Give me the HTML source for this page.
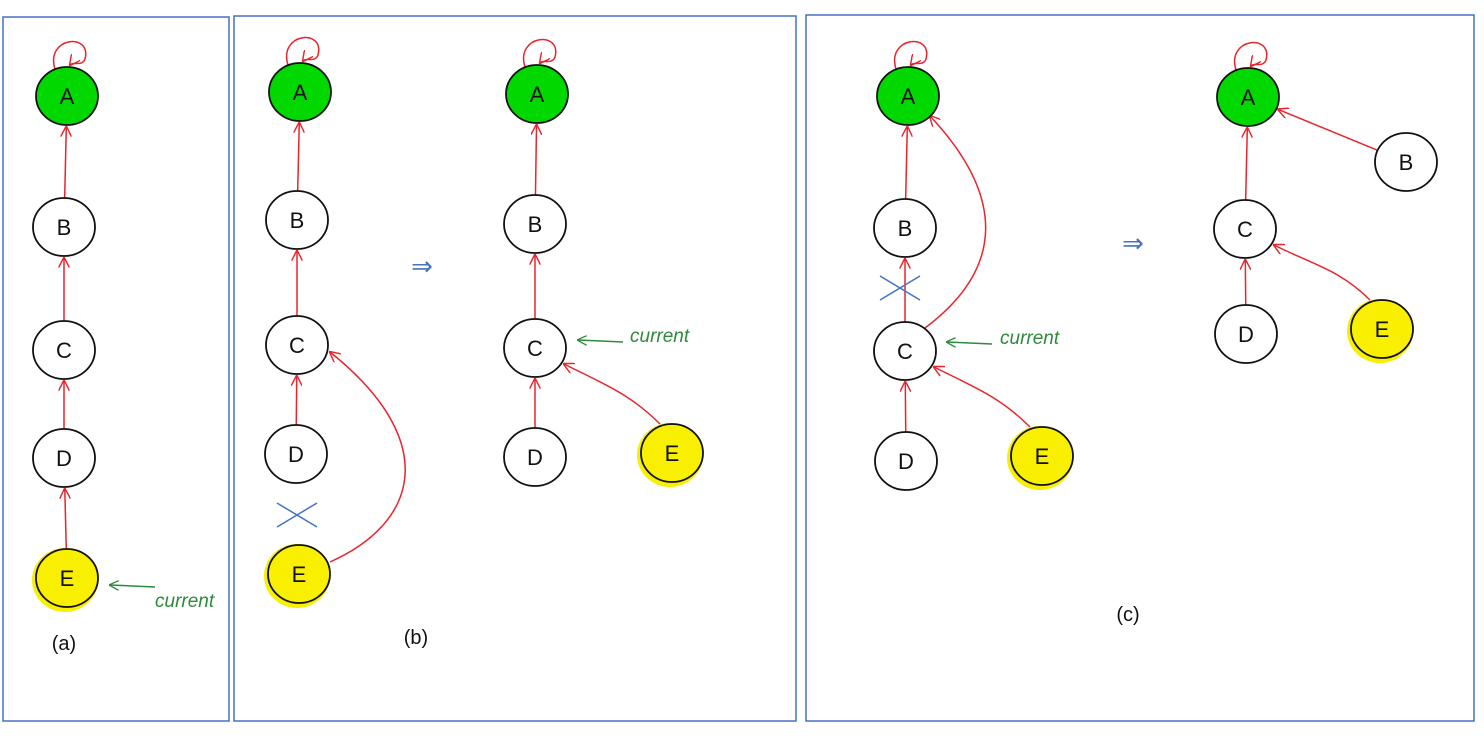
<!DOCTYPE html>
<html><head><meta charset="utf-8"><style>
html,body{margin:0;padding:0;background:#fff;}
svg{display:block;}
text{font-family:"Liberation Sans",sans-serif;}
</style></head><body>
<svg id="chart" width="1484" height="740" viewBox="0 0 1484 740" xmlns="http://www.w3.org/2000/svg">
<defs>
<marker id="ar" viewBox="0 0 10 10" refX="9" refY="5" markerWidth="11" markerHeight="11" orient="auto-start-reverse" markerUnits="userSpaceOnUse"><path d="M0,0 L10,5 L0,10" fill="none" stroke="#e8242c" stroke-width="1.3"/></marker>
<marker id="ag" viewBox="0 0 10 10" refX="1" refY="5" markerWidth="10" markerHeight="10" orient="auto" markerUnits="userSpaceOnUse"><path d="M10,0 L0,5 L10,10" fill="none" stroke="#2e8b3c" stroke-width="1.3"/></marker>
</defs>
<rect x="3" y="17" width="226" height="704" fill="none" stroke="#4472c4" stroke-width="1.5"/>
<rect x="234" y="16" width="562" height="705" fill="none" stroke="#4472c4" stroke-width="1.5"/>
<rect x="806" y="15" width="668" height="706" fill="none" stroke="#4472c4" stroke-width="1.5"/>
<g id="edges"></g>
<g id="nodes"></g>
<g id="extras"></g>
</svg>
<script>
const nodeNames=['A','B','C','D','E','A','B','C','D','E','A','B','C','D','E','A','B','C','D','E','A','B','C','D','E'];
const nodeX=[67,64,64,64,67,300,297,297,296,299,537,535,535,535,672,908,905,905,906,1042,1248,1406,1245,1246,1382];
const nodeY=[96,227,350,458,578,92,220,345,454,574,94,224,348,457,453,96,228,351,461,456,97,162,229,334,329];
const nodeKind=['root','n','n','n','cur','root','n','n','n','cur','root','n','n','n','cur','root','n','n','n','cur','root','n','n','n','cur'];
const edgeFrom=[1,2,3,4,6,7,8,9,11,12,13,14,16,17,18,19,21,22,23,24,17];
const edgeTo=[0,1,2,3,5,6,7,7,10,11,12,12,15,16,17,17,20,20,22,22,15];
const edgeCurve=[0,0,0,0,0,0,0,1,0,0,0,1,0,0,0,1,0,0,0,1,2];
const selfLoops=[0,5,10,15,20];
const svgNS='http://www.w3.org/2000/svg';
const gN=document.getElementById('nodes'),gE=document.getElementById('edges'),gX=document.getElementById('extras');
function mk(tag,attrs,parent){const e=document.createElementNS(svgNS,tag);for(const k in attrs)e.setAttribute(k,attrs[k]);parent.appendChild(e);return e;}
const RX=31,RY=29;
for(let i=0;i<nodeNames.length;i++){
  const g=mk('g',{},gN);
  
  
  const fill=nodeKind[i]==='root'?'#00d800':nodeKind[i]==='cur'?'#f8f000':'#fff';
  if(nodeKind[i]==='cur'){mk('ellipse',{cx:nodeX[i]-2,cy:nodeY[i]+2,rx:RX+2,ry:RY+3,fill:'#f8f000'},g);}
  mk('ellipse',{cx:nodeX[i],cy:nodeY[i],rx:RX,ry:RY,fill:fill,stroke:'#111','stroke-width':1.8},g);
  const t=mk('text',{x:nodeX[i],y:nodeY[i]+8,'text-anchor':'middle','font-size':22,fill:'#111'},g);
  t.textContent=nodeNames[i];
}
for(let k=0;k<edgeFrom.length;k++){
  const a=edgeFrom[k],b=edgeTo[k];
  let d;
  if(edgeCurve[k]===0){
    const dx=nodeX[b]-nodeX[a],dy=nodeY[b]-nodeY[a],L=Math.hypot(dx,dy);
    const ux=dx/L,uy=dy/L;
    const k1=1/Math.hypot(ux/RX,uy/RY);
    d=`M${nodeX[a]+ux*k1},${nodeY[a]+uy*k1} L${nodeX[b]-ux*(k1+2)},${nodeY[b]-uy*(k1+2)}`;
  } else if(edgeCurve[k]===2){
    const sx=nodeX[a]+20,sy=nodeY[a]-23,ex=nodeX[b]+22,ey=nodeY[b]+20;
    d=`M${sx},${sy} C${sx+80},${sy-60} ${sx+80},${ey+80} ${ex},${ey}`;
  } else if(nodeY[a]-nodeY[b]>150){
    const sx=nodeX[a]+RX,sy=nodeY[a]-12,ex=nodeX[b]+RX,ey=nodeY[b]+5;
    d=`M${sx},${sy} C${sx+90},${sy-40} ${sx+110},${ey+90} ${ex+2},${ey+2}`;
  } else {
    const sx=nodeX[a]-12,sy=nodeY[a]-RY,ex=nodeX[b]+RX-2,ey=nodeY[b]+16;
    d=`M${sx},${sy} C${sx-30},${sy-30} ${ex+40},${ey+20} ${ex},${ey}`;
  }
  const p=mk('path',{d:d,fill:'none',stroke:'#e8242c','stroke-width':1.5,'marker-end':'url(#ar)'},gE);
  
  
}
for(const i of selfLoops){
  const x=nodeX[i],y=nodeY[i]-RY;
  const p=mk('path',{d:`M${x-12},${y+2} C${x-22},${y-30} ${x+25},${y-35} ${x+18},${y-8} C${x+15},${y} ${x+6},${y-6} ${x+3},${y-2}`,fill:'none',stroke:'#e8242c','stroke-width':1.5,'marker-end':'url(#ar)'},gE);
  
  
}
const curTip=[[110,585,155,607],[578,340,630,342],[947,342,1000,344]];
for(const c of curTip){
  const g=mk('g',{},gX);
  
  
  mk('path',{d:`M${c[0]},${c[1]} L${c[0]+45},${c[1]+2}`,stroke:'#2e8b3c','stroke-width':1.5,fill:'none','marker-start':'url(#ag)'},g);
  const t=mk('text',{x:c[2],y:c[3],'font-size':19,fill:'#2e8b3c','font-style':'italic'},g);t.textContent='current';
}
for(const c of [[297,515],[900,288]]){
  const g=mk('g',{stroke:'#4472c4','stroke-width':1.5},gX);
  
  
  mk('line',{x1:c[0]-20,y1:c[1]-12,x2:c[0]+20,y2:c[1]+12},g);
  mk('line',{x1:c[0]-20,y1:c[1]+12,x2:c[0]+20,y2:c[1]-12},g);
}
for(const c of [[422,275],[1133,252]]){
  const t=mk('text',{x:c[0],y:c[1],'text-anchor':'middle','font-size':26,fill:'#4472c4'},gX);
  
  
  t.textContent='⇒';
}
const caps=[['(a)',64,650],['(b)',416,644],['(c)',1128,621]];
for(const c of caps){
  const t=mk('text',{x:c[1],y:c[2],'text-anchor':'middle','font-size':20,fill:'#111'},gX);
  
  
  t.textContent=c[0];
}
</script>
</body></html>
